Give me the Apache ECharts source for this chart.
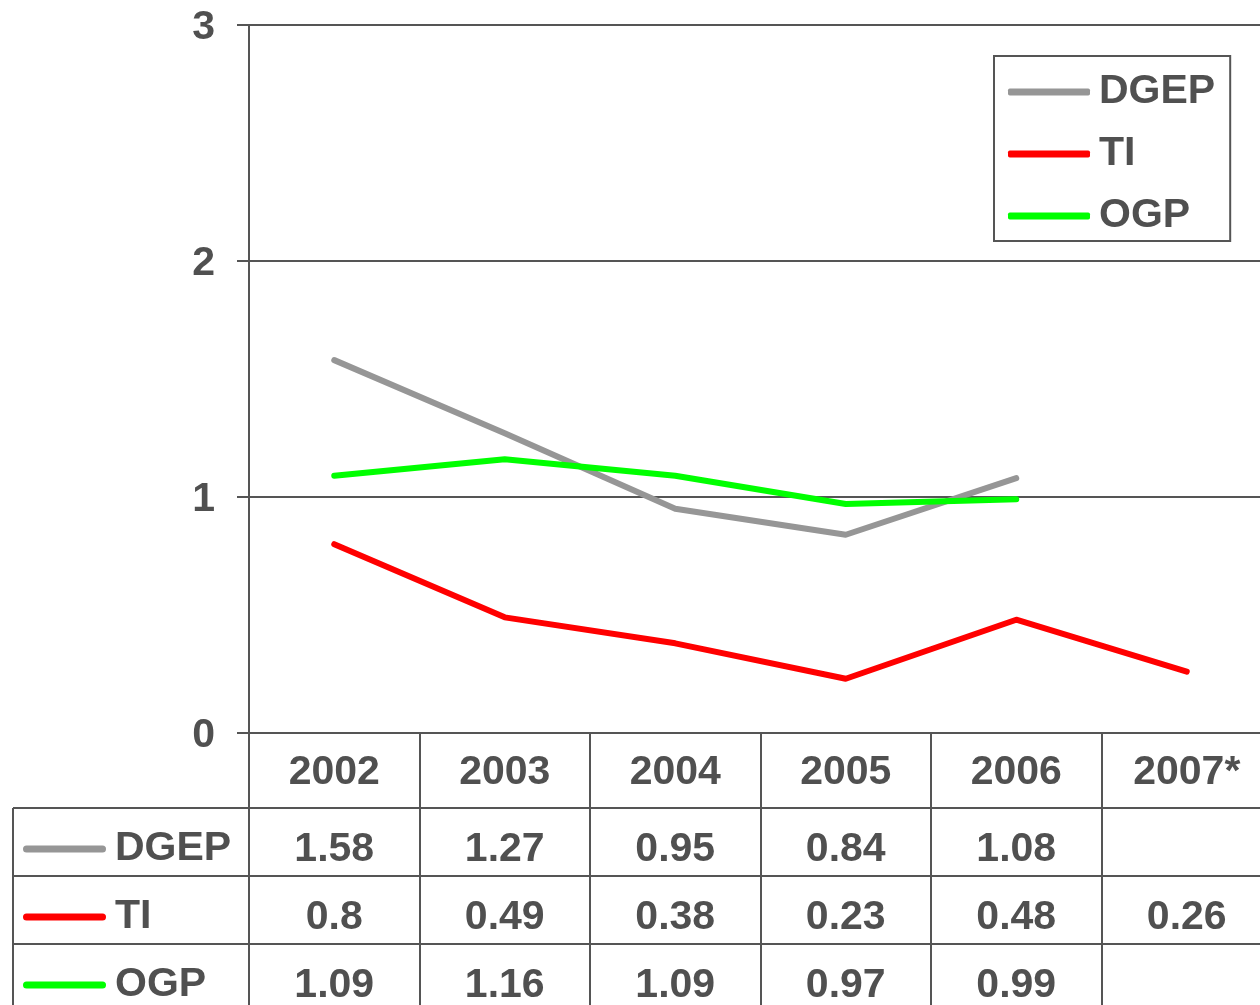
<!DOCTYPE html>
<html>
<head>
<meta charset="utf-8">
<script src="https://cdn.jsdelivr.net/npm/echarts@6/dist/echarts.min.js"></script>
<style>html,body{margin:0;padding:0;background:#fff;}#c{width:1260px;height:1005px;}</style>
</head>
<body>
<div id="c"></div>
<script>
const categories = ['2002', '2003', '2004', '2005', '2006', '2007*'];
const seriesNames = ['DGEP', 'TI', 'OGP'];
const dgep = [1.58, 1.27, 0.95, 0.84, 1.08, null];
const ti = [0.8, 0.49, 0.38, 0.23, 0.48, 0.26];
const ogp = [1.09, 1.16, 1.09, 0.97, 0.99, null];
const yMin = 0, yMax = 3, yStep = 1;

const colors = ['#969696', '#ff0000', '#00ff00'];
const allValues = [dgep, ti, ogp];
const TXT = '#505050';
const LINE = '#555555';
const FONT = 'Liberation Sans, Arial, sans-serif';
const FS = 41;

const tableData = [];
allValues.forEach((arr, r) => {
  arr.forEach((v, i) => {
    if (v !== null && v !== undefined) tableData.push([categories[i], seriesNames[r], v]);
  });
});

const rich = { t: { fontSize: FS, fontWeight: 'bold', color: TXT, fontFamily: FONT, padding: [0, 0, 0, 9] } };
colors.forEach((c, i) => {
  rich['l' + i] = { width: 83, height: 7, backgroundColor: c, borderRadius: 3.5, fontSize: 6 };
});

const gl = { color: LINE, width: 2 };
const ob = { outerBoundsMode: 'none', containLabel: false };
const chart = echarts.init(document.getElementById('c'));
chart.setOption({
  animation: false,
  textStyle: { fontFamily: FONT },
  grid: [
    Object.assign({ left: 249, top: 25, width: 1023, height: 708 }, ob),
    Object.assign({ left: 249, top: 733, width: 1023, height: 75 }, ob),
    Object.assign({ left: 249, top: 808, width: 1023, height: 204 }, ob),
    Object.assign({ left: 13, top: 808, width: 236, height: 204 }, ob)
  ],
  xAxis: [
    { gridIndex: 0, type: 'category', data: categories, boundaryGap: true,
      axisLine: { show: true, lineStyle: gl }, axisTick: { show: false },
      axisLabel: { margin: 40, verticalAlign: 'middle', fontSize: FS, fontWeight: 'bold', color: TXT, fontFamily: FONT, interval: 0 },
      splitLine: { show: false } },
    { gridIndex: 1, type: 'category', data: categories, boundaryGap: true,
      axisLine: { show: false }, axisTick: { show: false }, axisLabel: { show: false },
      splitLine: { show: true, interval: 0, lineStyle: gl } },
    { gridIndex: 2, type: 'category', data: categories, boundaryGap: true,
      axisLine: { show: false }, axisTick: { show: false }, axisLabel: { show: false },
      splitLine: { show: true, interval: 0, lineStyle: gl } },
    { gridIndex: 3, type: 'category', data: [''], boundaryGap: true,
      axisLine: { show: false }, axisTick: { show: false }, axisLabel: { show: false },
      splitLine: { show: true, interval: 0, lineStyle: gl } }
  ],
  yAxis: [
    { gridIndex: 0, type: 'value', min: yMin, max: yMax, interval: yStep,
      axisLine: { show: true, lineStyle: gl },
      axisTick: { show: true, length: 12, lineStyle: gl },
      axisLabel: { margin: 34, formatter: v => '{a|' + v + '}',
        rich: { a: { fontSize: FS, fontWeight: 'bold', color: TXT, fontFamily: FONT, padding: [6, 0, 0, 0] } } },
      splitLine: { show: true, lineStyle: gl } },
    { gridIndex: 1, type: 'value', show: false },
    { gridIndex: 2, type: 'category', data: seriesNames, inverse: true,
      axisLine: { show: false }, axisTick: { show: false }, axisLabel: { show: false },
      splitLine: { show: true, interval: 0, lineStyle: gl } },
    { gridIndex: 3, type: 'category', data: seriesNames, inverse: true,
      axisLine: { show: false }, axisTick: { show: false },
      axisLabel: { inside: true, margin: 10, interval: 0, padding: [14, 0, 0, 0],
        formatter: (v, i) => '{l' + i + '| }{t|' + v + '}', rich: rich },
      splitLine: { show: true, interval: 0, lineStyle: gl } }
  ],
  legend: {
    orient: 'vertical', left: 994, top: 56, data: seriesNames,
    icon: 'roundRect', itemWidth: 82, itemHeight: 7, itemGap: 18,
    borderColor: LINE, borderWidth: 2, padding: [14, 15, 3, 14],
    textStyle: { fontSize: FS, fontWeight: 'bold', color: TXT, fontFamily: FONT, lineHeight: 44, padding: [0, 0, 0, 4] }
  },
  series: [
    { name: 'DGEP', type: 'line', data: dgep, xAxisIndex: 0, yAxisIndex: 0, symbol: 'none', color: colors[0],
      lineStyle: { width: 6, color: colors[0], cap: 'round', join: 'round' } },
    { name: 'TI', type: 'line', data: ti, xAxisIndex: 0, yAxisIndex: 0, symbol: 'none', color: colors[1],
      lineStyle: { width: 6, color: colors[1], cap: 'round', join: 'round' } },
    { name: 'OGP', type: 'line', data: ogp, xAxisIndex: 0, yAxisIndex: 0, symbol: 'none', color: colors[2],
      lineStyle: { width: 6, color: colors[2], cap: 'round', join: 'round' } },
    { name: 'table', type: 'scatter', xAxisIndex: 2, yAxisIndex: 2, data: tableData,
      symbolSize: 1, itemStyle: { color: 'rgba(0,0,0,0)', opacity: 1 },
      label: { show: true, position: 'inside', offset: [0, 8], formatter: p => String(p.value[2]),
        fontSize: FS, fontWeight: 'bold', color: TXT, fontFamily: FONT } }
  ]
});
</script>
</body>
</html>
